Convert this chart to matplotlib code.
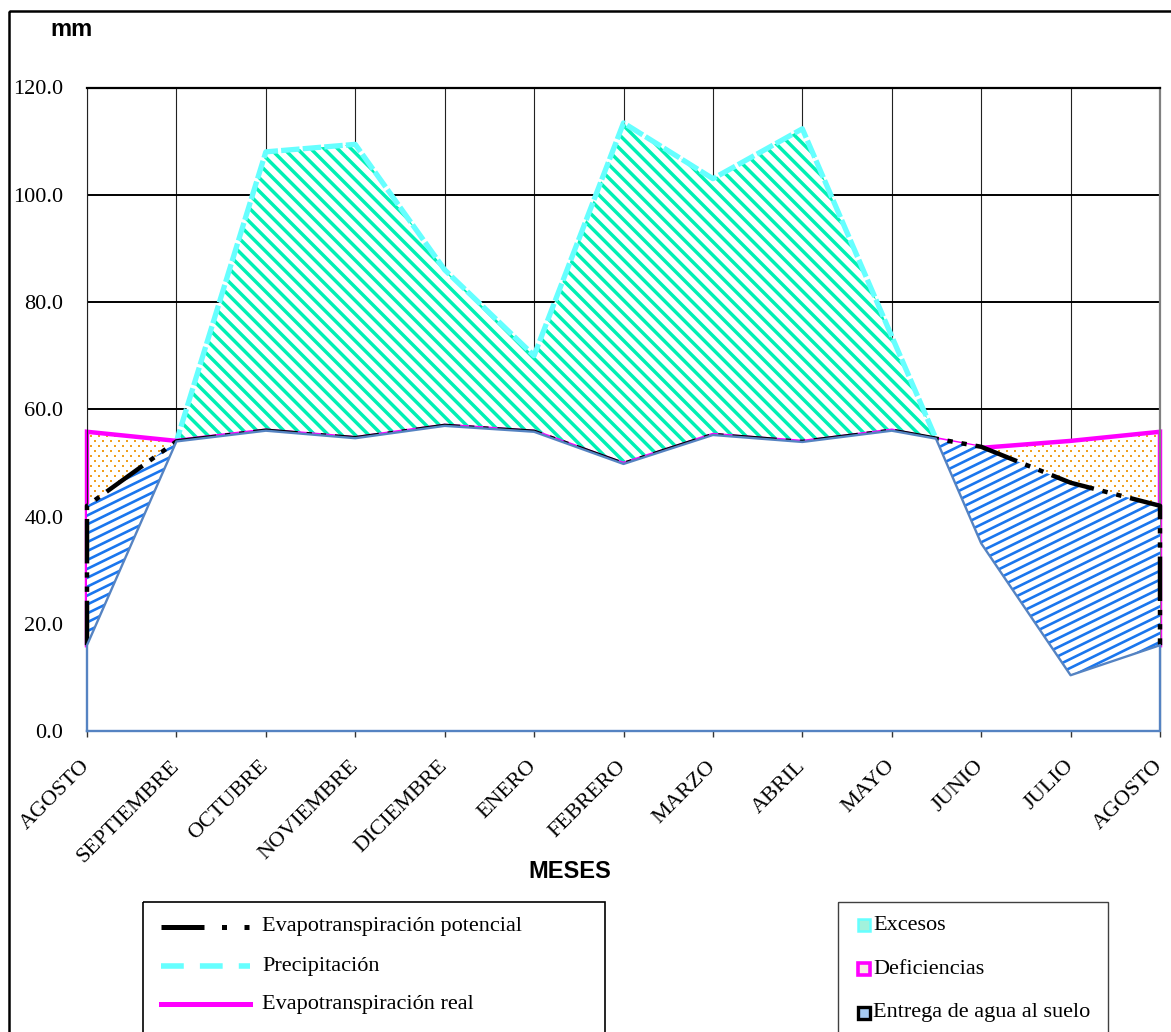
import numpy as np
import matplotlib
matplotlib.use("Agg")
import matplotlib.pyplot as plt
from matplotlib.collections import LineCollection
from matplotlib.lines import Line2D
from matplotlib.patches import Rectangle
from matplotlib.transforms import Affine2D, IdentityTransform

# ---------------------------------------------------------------- data
meses = ['AGOSTO', 'SEPTIEMBRE', 'OCTUBRE', 'NOVIEMBRE', 'DICIEMBRE', 'ENERO',
         'FEBRERO', 'MARZO', 'ABRIL', 'MAYO', 'JUNIO', 'JULIO', 'AGOSTO']
precipitacion = [16.0, 54.0, 108.0, 109.4, 86.0, 70.0, 113.4, 103.0, 112.3,
                 73.6, 35.0, 10.4, 16.0]
etp = [42.0, 54.0, 56.0, 54.6, 56.9, 55.8, 49.8, 55.2, 53.9, 56.0, 53.0, 46.3, 42.0]
etr = [55.8, 54.1, 56.0, 54.6, 56.9, 55.8, 49.8, 55.2, 53.9, 56.0, 52.8, 54.1, 55.8]
y_ticks = [0, 20, 40, 60, 80, 100, 120]

# ---------------------------------------------------------------- style
W, H = 1171, 1032
SERIF = 'Liberation Serif'
SANS = 'Liberation Sans'
FS = 16

C_EXC_LINE = '#66FFFF'
C_EXC_HATCH = '#00F0B4'
C_DEF_LINE = '#FF00FF'
C_DEF_DOT = '#F0A020'
C_ENT_HATCH = '#1A76EE'
C_BASE = '#5583C2'

fig = plt.figure(figsize=(W / 100, H / 100), dpi=100)
fig.patch.set_facecolor('white')
# pixel coordinates measured from the top-left corner of the figure
tpx = Affine2D().scale(1, -1).translate(0, H)

ax = fig.add_axes([87 / W, 1 - 731 / H, (1160 - 87) / W, (731 - 87.5) / H])
x = np.arange(len(meses), dtype=float)
P = np.array(precipitacion)
ETP = np.array(etp)
ETR = np.array(etr)


def lower_envelope(xv, a, b):
    """min(a, b) with the crossing points inserted."""
    xs, ys = [xv[0]], [min(a[0], b[0])]
    for i in range(len(xv) - 1):
        d0, d1 = a[i] - b[i], a[i + 1] - b[i + 1]
        if d0 * d1 < 0:
            t = d0 / (d0 - d1)
            xs.append(xv[i] + t * (xv[i + 1] - xv[i]))
            ys.append(a[i] + t * (a[i + 1] - a[i]))
        xs.append(xv[i + 1])
        ys.append(min(a[i + 1], b[i + 1]))
    return np.array(xs), np.array(ys)


def stripes(coll, angle, spacing, lw, color, zorder):
    """Parallel lines in pixel space clipped to a filled polygon."""
    bb = ax.bbox
    a = np.deg2rad(angle)
    d = np.array([np.cos(a), np.sin(a)])
    n = np.array([-np.sin(a), np.cos(a)])
    corners = np.array([[bb.x0, bb.y0], [bb.x1, bb.y0], [bb.x0, bb.y1], [bb.x1, bb.y1]])
    proj = corners @ n
    L = np.hypot(bb.width, bb.height)
    segs = []
    for o in np.arange(proj.min(), proj.max() + spacing, spacing):
        c = o * n + ((corners.mean(0)) @ d) * d
        segs.append([c - L * d, c + L * d])
    lc = LineCollection(segs, colors=color, linewidths=lw,
                        transform=IdentityTransform(), zorder=zorder)
    lc.set_clip_path(coll.get_paths()[0], ax.transData)
    ax.add_collection(lc, autolim=False)


def dots(coll, dx, dy, size, color, zorder):
    """Staggered dot texture in pixel space clipped to a filled polygon."""
    bb = ax.bbox
    pts = []
    for k, yy in enumerate(np.arange(bb.y0, bb.y1, dy)):
        xx = np.arange(bb.x0 + (dx / 2 if k % 2 else 0), bb.x1, dx)
        pts.append(np.column_stack([xx, np.full_like(xx, yy)]))
    pts = np.vstack(pts)
    sc = ax.scatter(pts[:, 0], pts[:, 1], s=size, marker='s', color=color,
                    linewidths=0, transform=IdentityTransform(), zorder=zorder)
    sc.set_clip_path(coll.get_paths()[0], ax.transData)


xl, yl = lower_envelope(x, P, ETP)
ends_x = np.concatenate([[x[0]], x, [x[-1]]])

# Excesos: precipitation polygon with diagonal stripes
p_fill = ax.fill_between(x, 0, P, facecolor='white', linewidth=0, zorder=1)
stripes(p_fill, -45, 9.5, 2.5, C_EXC_HATCH, 1.1)
ax.plot(x, P, color=C_EXC_LINE, lw=3.8, dashes=(3.5, 0.6), zorder=1.2,
        solid_capstyle='butt', dash_capstyle='butt')

# Deficiencias: real evapotranspiration polygon with dotted texture
r_fill = ax.fill_between(x, 0, ETR, facecolor='white', linewidth=0, zorder=2)
dots(r_fill, 8, 5, 3.6, C_DEF_DOT, 2.1)
ax.plot(ends_x, np.concatenate([[yl[0]], ETR, [yl[-1]]]), color=C_DEF_LINE,
        lw=3.2, zorder=2.2, clip_on=False, solid_joinstyle='miter')

# Entrega de agua al suelo: potential evapotranspiration polygon
e_fill = ax.fill_between(x, 0, ETP, facecolor='white', linewidth=0, zorder=3)
stripes(e_fill, 26, 8.0, 1.9, C_ENT_HATCH, 3.1)
ax.plot(ends_x, np.concatenate([[yl[0]], ETP, [yl[-1]]]), color='black',
        lw=3.2, dashes=(10.0, 2.0, 1.2, 2.0, 1.2, 2.0), zorder=3.2, clip_on=False)

# base area below min(P, ETP)
ax.fill_between(xl, 0, yl, facecolor='white', linewidth=0, zorder=4)
ax.plot(np.concatenate([[xl[0]], xl, [xl[-1], xl[0]]]),
        np.concatenate([[0], yl, [0, 0]]), color=C_BASE, lw=1.7,
        zorder=4.2, clip_on=False)

# ---------------------------------------------------------------- axes
ax.set_xlim(0, 12)
ax.set_ylim(0, 120)
ax.set_axisbelow(True)
ax.yaxis.grid(True, color='black', lw=1.4)
ax.xaxis.grid(True, color='#222222', lw=0.8)
ax.set_yticks(y_ticks)
ax.set_yticklabels([f'{v:.1f}' for v in y_ticks], fontfamily=SERIF, fontsize=FS)
ax.set_xticks(x)
ax.set_xticklabels(meses, fontfamily=SERIF, fontsize=FS, rotation=45,
                   ha='right', va='center', rotation_mode='anchor')
ax.tick_params(axis='y', length=0, pad=17)
ax.tick_params(axis='x', length=4.5, width=1.0, color='#333333', pad=19)
ax.spines['bottom'].set_visible(False)
ax.spines['top'].set_color('black')
ax.spines['top'].set_linewidth(1.6)
ax.spines['left'].set_color('#222222')
ax.spines['left'].set_linewidth(0.8)
ax.spines['right'].set_color('#808080')
ax.spines['right'].set_linewidth(1.6)

# ---------------------------------------------------------------- titles
fig.text(72, 30, 'mm', transform=tpx, fontfamily=SANS, fontweight='bold',
         fontsize=17, ha='center', va='center')
fig.text(570, 872, 'MESES', transform=tpx, fontfamily=SANS, fontweight='bold',
         fontsize=17, ha='center', va='center')

# outer chart border
fig.add_artist(Rectangle((8.7, 10.5), 1400, 1400, transform=tpx, fill=False,
                         edgecolor='black', lw=1.8))

# ---------------------------------------------------------------- legends
fig.add_artist(Rectangle((143, 902), 462, 200, transform=tpx, fill=False,
                         edgecolor='black', lw=1.2))
fig.add_artist(Rectangle((838, 902), 270, 200, transform=tpx, fill=False,
                         edgecolor='#404040', lw=1.0))

line_items = [
    ('Evapotranspiración potencial', dict(color='black', lw=3.6,
                                          dashes=(8.6, 3.5, 1.0, 3.5, 1.0, 3.5))),
    ('Precipitación', dict(color=C_EXC_LINE, lw=4.0, dashes=(4.1, 2.9))),
    ('Evapotranspiración real', dict(color=C_DEF_LINE, lw=3.6)),
]
for (label, style), yy in zip(line_items, [927, 966, 1004]):
    fig.add_artist(Line2D([161, 250], [yy, yy], transform=tpx, **style))
    fig.text(262, yy, label, transform=tpx, fontfamily=SERIF, fontsize=FS,
             ha='left', va='center')

box_items = [
    ('Excesos', dict(facecolor='#A2F2DC', edgecolor=C_EXC_LINE, lw=1.8)),
    ('Deficiencias', dict(facecolor='#F6EEE4', edgecolor=C_DEF_LINE, lw=2.6)),
    ('Entrega de agua al suelo', dict(facecolor='#A6CAF2', edgecolor='black', lw=2.4)),
]
for (label, style), yy in zip(box_items, [925, 969, 1013]):
    fig.add_artist(Rectangle((858, yy - 6), 12, 12, transform=tpx, **style))
    fig.text(873, yy, label, transform=tpx, fontfamily=SERIF, fontsize=FS,
             ha='left', va='center')

fig.savefig('out.png', dpi=100)
